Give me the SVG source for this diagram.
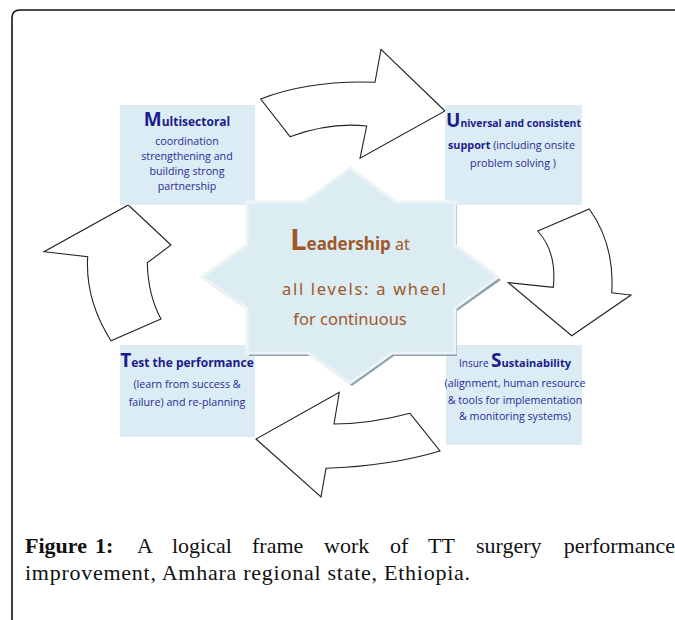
<svg xmlns="http://www.w3.org/2000/svg" width="675" height="620" viewBox="0 0 675 620">
<style>
.box{fill:#dbecf4}
.arrow{fill:#ffffff;stroke:#222;stroke-width:1.1;stroke-linejoin:miter}
.t{font-family:"Open Sans","Liberation Sans",sans-serif;fill:#2a2a9a;font-size:10.7px}
.b{font-weight:bold;fill:#1c1c8a}
.big{font-size:19px;font-weight:bold;fill:#1c1c8a}
.c{font-family:"Noto Sans","DejaVu Sans",sans-serif;fill:#a0582a;font-size:16.5px}
.cap{font-family:"Liberation Serif",serif;font-size:22px;fill:#111}
</style>
<rect width="675" height="620" fill="#fff"/>
<path d="M12,620 V18 Q12,10 20,10 H675" fill="none" stroke="#111" stroke-width="1.6"/>

<g id="connectors">
<path class="arrow" d="M260.7,99 Q310,80 375,82.3 L381,49.3 L445,111 L360,158.3 L366.7,126 Q330,122 290,136.7 Z"/>
<path class="arrow" d="M537.7,231 L589.3,209 Q615,245 611.7,292.7 L631,295 L571.7,335.7 L508.3,282.7 L553.3,287.3 Q557,252 537.7,231 Z"/>
<path class="arrow" d="M440,451 Q390,466 326,468.3 L321,497 L256,439 L339.3,392.3 L334,424 Q370,424 410,413.3 Z"/>
<path class="arrow" d="M111,340.7 Q85,300 87.7,256.7 L44,251.7 L128.3,205 L171,245 L147.3,262.7 Q148,295 161,319 Z"/>
</g>

<g id="multisectoral">
<rect class="box" x="120" y="105" width="135" height="100"/>
<text class="t" text-anchor="middle" x="187" y="126"><tspan class="big">M</tspan><tspan class="b" font-size="12">ultisectoral</tspan></text>
<text class="t" text-anchor="middle" x="187" y="144.5">coordination</text>
<text class="t" text-anchor="middle" x="187" y="159.5">strengthening and</text>
<text class="t" text-anchor="middle" x="187" y="175">building strong</text>
<text class="t" text-anchor="middle" x="187" y="190">partnership</text>
</g>

<g id="universal">
<rect class="box" x="445" y="105" width="137" height="100"/>
<text class="t" x="446" y="127"><tspan class="big">U</tspan><tspan class="b" font-size="10.4">niversal and consistent</tspan></text>
<text class="t" x="448" y="149"><tspan class="b" font-size="10.8">support</tspan>  (including onsite</text>
<text class="t" text-anchor="middle" x="513" y="167">problem solving )</text>
</g>

<g id="test">
<rect class="box" x="120" y="345" width="135" height="92"/>
<text class="t" text-anchor="middle" x="187" y="367"><tspan class="big">T</tspan><tspan class="b" font-size="12">est the performance</tspan></text>
<text class="t" text-anchor="middle" x="187" y="388">(learn from success &amp;</text>
<text class="t" text-anchor="middle" x="187" y="406">failure) and re-planning</text>
</g>

<g id="sustainability">
<rect class="box" x="446" y="345" width="136" height="100"/>
<text class="t" text-anchor="middle" x="515" y="367"><tspan font-size="10">Insure </tspan><tspan class="big">S</tspan><tspan class="b" font-size="11">ustainability</tspan></text>
<text class="t" text-anchor="middle" x="515" y="387">(alignment, human resource</text>
<text class="t" text-anchor="middle" x="515" y="403.5">&amp; tools for implementation</text>
<text class="t" text-anchor="middle" x="515" y="419.5">&amp; monitoring systems)</text>
</g>

<g id="leadership">
<polygon points="352,171 398,205 457,205 457,248 501,280 457,311 457,356 394,356 352,386 310,356 249,356 249,311 204,280 249,248 249,205 306,205" fill="#8aa3b0"/>
<polygon points="350,168 396,202 455,202 455,245 498,277 455,308 455,353 392,353 350,383 308,353 247,353 247,308 202,277 247,245 247,202 304,202" fill="#dbecf2" stroke="#eef3f5" stroke-width="3"/>
<text class="c" text-anchor="middle" x="350" y="250"><tspan font-size="29" font-weight="bold">L</tspan><tspan font-size="17" font-weight="bold">eadership</tspan><tspan font-size="16"> at</tspan></text>
<text class="c" x="282" y="295" textLength="164" lengthAdjust="spacing">all levels: a wheel</text>
<text class="c" text-anchor="middle" x="350" y="325">for continuous</text>
</g>

<g id="caption">
<text class="cap" y="553"><tspan x="25" font-weight="bold">Figure</tspan><tspan x="95" font-weight="bold">1:</tspan><tspan x="137">A</tspan><tspan x="172">logical</tspan><tspan x="252">frame</tspan><tspan x="324">work</tspan><tspan x="390">of</tspan><tspan x="428">TT</tspan><tspan x="476">surgery</tspan></text>
<text class="cap" x="675" y="553" text-anchor="end">performance</text>
<text class="cap" x="25" y="580" textLength="445" lengthAdjust="spacing">improvement, Amhara regional state, Ethiopia.</text>
</g>
</svg>
